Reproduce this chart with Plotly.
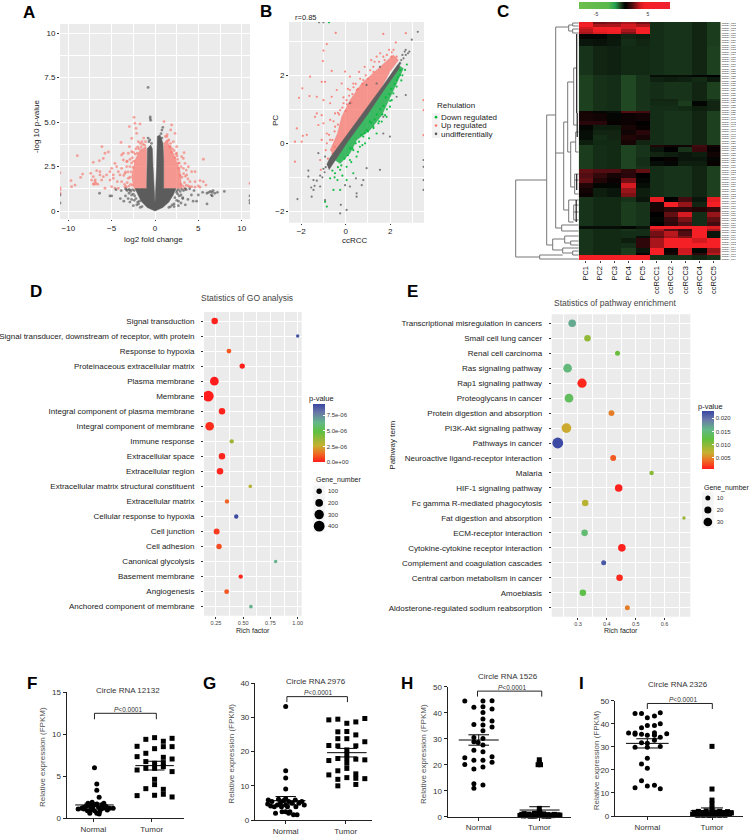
import plotly.graph_objects as go

W, H = 753, 836
FONT = "Liberation Sans"
GG_BG = "#ebebeb"

# ---- A: volcano, envelopes of the dense areas plus the separate points
volcano_grey_left_x = [0, -0.9, -1.6, -2.0, -2.3, -0.96, -0.96, -0.88, -0.5, -0.31, -0.23, -0.08, 0]
volcano_grey_left_y = [0, 0.2, 0.55, 0.95, 1.26, 1.26, 2.87, 3.51, 3.71, 3.51, 2.51, 1.26, 0.43]
volcano_grey_right_x = [0, 0.9, 1.6, 2.1, 2.4, 1.0, 1.0, 0.92, 0.58, 0.27, 0.19, 0.12, 0]
volcano_grey_right_y = [0, 0.2, 0.5, 0.9, 1.26, 1.26, 2.87, 3.81, 4.28, 4.2, 2.51, 1.26, 0.43]
volcano_red_left_x = [-0.96, -2.42, -2.69, -2.31, -1.73, -1.04, -0.96]
volcano_red_left_y = [1.26, 1.26, 1.93, 2.87, 3.43, 3.62, 3.25]
volcano_red_right_x = [1.0, 3.08, 2.88, 2.1, 1.35, 1.0]
volcano_red_right_y = [1.26, 1.26, 2.31, 3.25, 4.0, 3.8]
volcano_red_x = [-8.96, -9.69, -9.23, -9.62, -8.58, -8.35, -7.12, -6.42, -6.12, -5.77, -5.38, -5.96, -6.35, -6.73,
                 -7.42, -7.12, -7.31, -6.92, -7.12, -6.35, -5.96, -5.58, -5.19, -5, -4.62, -4.81, -5.19, -4.42,
                 -4.23, -3.85, -3.65, -3.65, -3.27, -3.85, -4.04, -4.35, -3.85, -4.23, -3.46, -3.08, -2.96, -3.08,
                 -2.69, -2.88, -2.42, -2.96, -2.19, -1.73, -2.12, -2.69, -3.92, -1.92, -2.31, -3.46, -4.62, -5.77,
                 -5, -3.27, -6.15, -4.81, -7.0, -6.8, -6.6, -6.9, -10.96, -10.96, -10.96, -10.96,
                 1.04, 1.92, 1.81, 1.35, 2.12, 2.5, 3.35, 3.27, 5.58, 3.85, 4.23, 4.62, 3.65, 4.04, 4.62, 3.85,
                 5.19, 5.58, 5.88, 5.0, 4.62, 4.23, 5.19, 3.08, 2.69, 2.5, 3.27, 3.46, 2.31, 1.73, 10.96,
                 -3.0, -3.2, -2.9, -3.1, -2.9, -2.7, -2.6, -2.3, -2.2, -2.0, -1.7, -1.5, -1.3, -1.1, -2.8, -2.6,
                 -2.75, -2.55, -2.45, -2.05, -1.85, -1.6, -3.3, -3.5, -3.6, -3.4, -3.2, -1.4, -1.2, -2.5,
                 3.2, 3.4, 3.1, 3.3, 3.0, 2.8, 2.6, 2.4, 2.2, 2.0, 1.8, 1.6, 1.4, 3.6, 3.5, 3.6, 3.0, 2.9, 2.75,
                 2.3, 1.9, 1.5, 1.2, 3.8, 4.0, 3.4, 2.55, 1.75]
volcano_red_y = [3.11, 1.71, 1.46, 1.37, 1.89, 2.08, 2.74, 2.83, 3.62, 3.25, 3.32, 2.96, 2.21, 2.27,
                 2.12, 1.93, 1.74, 1.65, 1.52, 2.03, 1.93, 2.03, 2.21, 2.4, 2.68, 1.84, 1.74, 2.5,
                 2.21, 3.15, 3.25, 2.87, 2.5, 2.4, 2.03, 1.65, 1.65, 1.28, 1.37, 1.84, 3.62, 3.25,
                 3.34, 2.91, 5.27, 4.75, 4.65, 4.9, 4.37, 4.09, 3.86, 3.9, 4.93, 2.12, 1.28, 1.28,
                 1.37, 2.78, 1.74, 2.03, 1.5, 1.55, 1.5, 1.75, 2.15, 1.3, 1.2, 1.0,
                 5.03, 4.84, 4.56, 4.18, 3.9, 3.62, 3.28, 2.96, 2.91, 2.49, 2.21, 2.21, 2.03, 1.65, 1.65, 1.41,
                 1.71, 1.65, 1.46, 1.41, 1.34, 1.37, 1.34, 3.06, 2.68, 3.25, 2.4, 2.68, 4.37, 3.62, 1.55,
                 1.4, 1.6, 1.9, 2.2, 2.5, 2.7, 3.0, 3.2, 3.5, 3.6, 3.8, 3.9, 4.1, 3.9, 1.5, 1.45,
                 2.2, 2.45, 2.8, 3.25, 3.5, 3.6, 1.35, 1.5, 2.0, 2.2, 2.8, 3.75, 3.7, 3.3,
                 1.4, 1.6, 1.9, 2.1, 2.5, 2.7, 2.9, 3.2, 3.4, 3.5, 3.8, 4.0, 4.3, 1.45, 1.95, 2.3, 1.5, 2.0, 2.4,
                 3.0, 3.3, 3.95, 4.2, 1.8, 1.35, 1.3, 3.1, 3.6]
volcano_grey_x = [-0.8, -0.55, -0.55, -0.5, 0.9, 0.8, 0.7, -0.8, -0.6, -0.7, -0.4, 0.8, 0.6,
                  6.0, 6.2, 6.4, 6.6, 6.7, 6.9, 6.5, 7.2, 8.0, 6.6, 6.0, 4.8, 4.4, 4.2, 4.5, 3.8, 3.5, 3.2, 3.0,
                  2.7, 3.6, 5.5, 4.0, 5.0, 2.5, -6.4, -5.2, -5.0, -4.5, -3.9, -4.0, -3.4, -3.0, -3.1, -3.3, -3.6,
                  -2.9, -2.5, -2.7, -10.96, -10.96, 10.96, 10.96, 10.96,
                  -2.4, -2.6, -2.8, -3.0, -2.5, -2.7, -2.2, -2.4, -1.9, -2.1, -1.5, -1.7, -3.2, -2.35, -2.9, -3.4,
                  -2.0, -1.8, 2.5, 2.7, 2.9, 3.1, 3.3, 3.5, 2.6, 2.8, 2.3, 2.5, 2.0, 2.2, 1.6, 1.8, 3.0, 3.2, 2.7,
                  2.2]
volcano_grey_y = [6.95, 5.3, 5.2, 5.1, 4.7, 4.55, 4.35, 4.1, 4.0, 3.9, 3.8, 4.1, 3.9,
                  1.0, 1.05, 1.1, 1.05, 1.15, 1.0, 0.9, 1.05, 1.1, 0.85, 0.4, 0.55, 0.55, 0.9, 1.15, 0.65, 0.35,
                  0.75, 0.45, 0.3, 1.2, 1.05, 1.25, 0.9, 1.05, 1.0, 0.85, 0.85, 1.2, 1.15, 0.7, 0.85, 1.0, 0.7,
                  1.2, 0.55, 0.5, 0.3, 0.65, 0.9, 0.45, 0.85, 0.6, 0.45,
                  1.15, 1.2, 1.1, 1.22, 0.95, 0.9, 0.7, 0.6, 0.4, 0.35, 0.25, 0.2, 1.15, 0.85, 1.18, 1.25,
                  0.5, 0.55, 1.15, 1.2, 1.1, 1.22, 1.15, 1.25, 0.95, 0.85, 0.75, 0.6, 0.35, 0.4, 0.2, 0.25, 0.9, 0.7,
                  0.55, 0.25]

# ---- B: correlation scatter
corr_red_band_x = [-0.70, -0.37, -0.18, 0.19, 0.72, 1.39, 2.14, 2.37, 1.99, 1.47, 0.79, 0.04, -0.48]
corr_red_band_y = [-0.2, 0.29, 0.78, 1.27, 1.76, 2.16, 2.6, 2.45, 2.11, 1.47, 0.88, 0.1, -0.39]
corr_green_band_x = [-0.10, 0.79, 1.54, 2.07, 2.37, 2.59, 2.29, 1.92, 1.62, 1.09, 0.49, 0.19, -0.25, -0.48]
corr_green_band_y = [-0.1, 0.78, 1.47, 2.06, 2.30, 2.2, 1.77, 1.27, 0.83, 0.39, 0.1, -0.29, -0.59, -0.49]
corr_grey_band_x = [-0.85, -0.7, 0.0, 0.85, 1.7, 2.3, 2.45, 2.4, 1.8, 0.95, 0.1, -0.55, -0.75]
corr_grey_band_y = [-0.62, -0.42, 0.2, 0.95, 1.72, 2.28, 2.4, 2.2, 1.65, 0.82, 0.06, -0.58, -0.78]
corr_red_x = [-0.45, -0.85, -1.0, -1.03, -0.63, -0.03, -1.6, -1.95, -1.63, -2.1, -1.08, -0.93, -0.63, -1.3, -1.0,
              -0.7, -0.4, -0.18, 0.19, -1.3, -1.08, -1.38, -1.0, -0.7, -0.48, -2.2, -2.28, -1.93, -1.75, -1.98,
              -2.28, -1.23, -0.85, -1.08, -1.15, -1.12, -0.7, 1.69, 2.7, 2.25, 2.07, 2.29, 1.69, 1.24, 1.39, 0.79,
              0.34, 0.49, 0.19, 0.04, -0.25, -0.48, -0.1, 3.5, 3.5, 3.5,
              -0.6, -0.5, -0.35, -0.3, -0.15, 0.0, 0.05, 0.15, 0.3, 0.25, 0.45, 0.55, 0.65, 0.75, 0.9, 1.0, 1.1,
              1.25, 1.3, 1.5, 1.55, 1.75, 1.85, 1.95, 2.05, 2.15, -0.55, -0.75, -0.85, -0.9, -0.6, -0.5, -0.8,
              -0.35, -0.1, 0.1, 0.6, 0.85, 1.15, 0.35]
corr_red_y = [3.25, 2.92, 2.73, 2.42, 2.13, 2.11, 1.96, 1.62, 1.39, 1.34, 1.81, 1.81, 1.37, 1.37, 1.27,
              1.18, 1.57, 1.76, 1.96, 0.88, 0.83, 0.78, 0.59, 0.69, 0.88, 0.44, 0.05, 0.22, 0.25, 0.05,
              -0.54, 0.54, 0.29, 0.1, -0.49, -0.78, 0.1, 3.22, 3.24, 2.97, 2.68, 2.55, 2.55, 2.25, 2.55, 1.86,
              1.76, 1.57, 1.57, 1.27, 0.98, 0.49, 1.18, 1.27, 0.98, 0.24,
              0.1, 0.35, 0.55, 0.85, 1.05, 0.95, 1.15, 1.4, 1.45, 1.2, 1.75, 1.6, 1.9, 1.75, 2.0, 1.9, 2.15,
              2.1, 2.4, 2.4, 2.65, 2.45, 2.6, 2.75, 2.55, 2.75, 0.65, 0.25, 0.0, -0.2, -0.3, -0.1, -0.45,
              0.9, 1.35, 1.6, 2.1, 2.25, 2.45, 1.65]
corr_green_x = [2.75, 2.67, 2.44, 2.29, 2.29, 2.14, 2.07, 1.99, 1.84, 1.77, 1.62, 1.47, 1.24, 0.94, 0.79, 0.87,
                0.64, 0.34, 0.49, 0.19, 0.04, 0.34, -0.25, -0.48, -0.37, -0.7, -0.55, -0.85, -0.93, -0.25, 0.04,
                1.39, 1.09, -0.75,
                0.3, 0.45, 0.6, 0.7, 0.85, 1.0, 1.15, 1.3, 1.4, 1.55, 1.7, 1.8, 1.95, 2.05, 2.2, 2.35, 2.45, 0.1,
                0.2, -0.05, -0.2, -0.35, -0.6, 1.05, 1.25, 1.5, 0.55, 0.75, 1.65, 1.85, 2.0, -0.5, -0.15, 0.25,
                2.5, 2.55]
corr_green_y = [2.32, 2.16, 2.01, 1.86, 1.67, 1.47, 1.27, 1.08, 0.78, 0.83, 0.64, 0.59, 0.49, 0.39, 0.2, 0,
                -0.1, -0.2, -0.39, -0.49, -0.69, -0.88, -0.78, -0.88, -1.08, -1.03, -1.37, -1.86, -1.72, -1.37,
                -1.08, 0.29, 0.64, 3.56,
                -0.15, 0.0, 0.05, 0.25, 0.3, 0.35, 0.6, 0.7, 0.85, 1.0, 1.1, 1.35, 1.45, 1.6, 1.75, 1.95, 2.15, -0.35,
                -0.15, -0.45, -0.65, -0.7, -0.8, 0.15, 0.45, 0.65, -0.25, -0.05, 0.85, 1.0, 1.25, -1.0, -0.95, -0.55,
                1.85, 2.0]
corr_grey_x = [3.24, 2.97, 2.7, 2.86, 1.54, 0.94, 0.19, 1.39, 1.69, 1.99, 1.69, 1.54, 0.94, 0.79, 0.72, 0.46, 0.49,
               0.49, 0.19, -0.03, -0.93, -1.23, -1.68, -1.68, -1.45, -1.15, -1.45, -1.53, -2.17, -0.93, -0.22, 0.04,
               -0.25, 3.5, 3.5, 3.5, 3.5, 2.7, 2.29, -1.2, -1.0,
               -1.3, -1.15, -1.05, -0.95, -0.9, -1.0, -1.4, -1.55, 2.5, 2.6, 2.55, 2.7, 2.8, 2.45, 2.65]
corr_grey_y = [3.28, 3.05, 2.75, 2.7, 2.25, 1.72, 1.18, 1.76, 0.78, 0.2, 0.29, -0.78, -0.73, -1.08, -1.23, -1.03,
               -1.57, -1.47, -1.27, -1.23, -0.39, -0.29, -0.8, -0.98, -1.08, -1.27, -1.37, -1.57, -1.64, -1.67,
               -1.81, -1.96, -2.06, -0.49, -0.69, -1.08, -1.37, 1.42, 1.37, 3.56, 3.56,
               -1.1, -0.95, -1.0, -0.85, -0.7, -0.75, -1.25, -1.3, 2.45, 2.5, 2.6, 2.6, 2.65, 2.35, 2.7]
regulation_labels = ["Down regulated", "Up regulated", "undifferentially"]
regulation_colors = ["#00ba38", "#f8766d", "#595959"]

# ---- C: heatmap blocks, each row repeated heat_counts times
heat_columns = ["PC1", "PC2", "PC3", "PC4", "PC5", "ccRCC1", "ccRCC2", "ccRCC3", "ccRCC4", "ccRCC5"]
heat_stops = [(-8.33, "#6cbf4c"), (-2.69, "#5bb84b"), (-1.35, "#23a050"), (-0.38, "#214a24"), (0.58, "#000000"),
              (1.92, "#4a0c10"), (3.46, "#d01a20"), (4.42, "#f52026"), (9.23, "#ef2330")]
heat_rows = [
    [4.2, 2.4, 2.6, 3.0, 2.4, 0.0, -0.1, -0.1, 0.1, -0.2],
    [4.5, 3.0, 3.0, 3.5, 3.0, 0.0, -0.1, -0.1, 0.1, -0.2],
    [3.5, 4.5, 4.5, 3.5, 4.5, 0.0, -0.1, -0.1, 0.1, -0.2],
    [3.2, 4.2, 4.5, 3.0, 4.5, 0.0, -0.1, -0.1, 0.1, -0.2],
    [3.0, 3.8, 4.2, 2.6, 4.5, 0.0, -0.1, -0.1, 0.1, -0.2],
    [0.5, 0.5, 0.3, 0.1, 0.2, 0.0, -0.1, -0.1, 0.1, -0.2],
    [0.3, 0.35, 0.25, 0.0, 0.1, 0.0, -0.1, -0.1, 0.1, -0.2],
    [-0.1, 0.1, 0.15, 0.05, 0.05, 0.0, -0.1, -0.1, 0.1, -0.25],
    [-0.25, -0.05, 0.0, -0.35, -0.1, 0.4, 0.4, 0.4, 0.5, 0.6],
    [-0.25, -0.05, 0.0, -0.35, -0.1, 0.15, 0.2, 0.15, 0.05, 0.25],
    [-0.25, -0.05, 0.0, -0.35, -0.1, 0.0, -0.1, -0.1, 0.1, -0.25],
    [-0.25, -0.05, 0.0, -0.35, -0.1, 0.1, 0.1, -0.1, 0.1, 0.0],
    [-0.25, -0.05, 0.0, -0.35, -0.1, 0.05, 0.05, -0.2, 0.5, 0.1],
    [-0.25, -0.05, 0.0, -0.35, -0.1, 0.0, 0.0, 0.05, 0.2, 0.1],
    [0.9, 0.5, 0.4, 2.0, 1.8, 0.0, -0.1, -0.1, 0.1, -0.25],
    [1.0, 0.9, 0.5, 0.8, 0.9, 0.0, -0.1, -0.1, 0.1, -0.25],
    [1.3, 1.3, 0.7, 0.8, 0.6, 0.0, -0.1, -0.1, 0.1, -0.25],
    [0.5, 0.2, 0.2, 1.0, 0.7, 0.0, -0.1, -0.1, 0.1, -0.25],
    [0.4, 0.1, 0.1, 0.9, 1.3, 0.0, -0.1, -0.1, 0.1, -0.25],
    [0.4, 0.0, 0.1, 1.2, 1.0, 0.0, -0.1, -0.1, 0.1, -0.25],
    [0.2, 0.05, 0.05, 1.0, 0.1, 0.0, -0.1, -0.1, 0.1, -0.25],
    [-0.2, 0.0, 0.05, -0.3, -0.1, 1.2, 0.9, 0.9, 1.8, 0.9],
    [-0.2, 0.0, 0.05, -0.3, -0.1, 0.3, 0.6, -0.1, 1.6, 0.7],
    [-0.2, 0.0, 0.05, -0.3, -0.1, 0.1, 0.2, 0.3, 0.2, 0.9],
    [-0.2, 0.0, 0.05, -0.3, 0.0, 0.6, 0.7, 0.3, 0.3, 0.5],
    [-0.2, 0.0, 0.05, -0.3, 0.0, 0.4, 0.5, 0.2, 0.2, 0.7],
    [-0.2, 0.0, 0.05, -0.3, -0.1, 0.0, -0.1, -0.1, 0.1, -0.25],
    [2.2, 2.0, 2.0, 1.4, 2.2, 0.0, -0.1, -0.1, 0.1, -0.25],
    [2.0, 1.5, 1.0, 1.3, 0.6, 0.0, -0.1, -0.1, 0.1, -0.25],
    [2.2, 1.2, 0.8, 2.4, 0.5, 0.0, -0.1, -0.1, 0.1, -0.25],
    [1.2, 0.5, 0.5, 3.6, 0.4, 0.0, -0.1, -0.1, 0.1, -0.25],
    [0.9, 0.2, 0.3, 2.8, 0.2, 0.0, -0.1, -0.1, 0.1, -0.25],
    [0.8, 0.2, 0.3, 2.5, 0.2, 0.0, -0.1, -0.1, 0.1, -0.25],
    [-0.1, 0.05, 0.05, -0.1, 0.3, 4.0, 0.6, 1.8, 0.3, 4.0],
    [-0.1, 0.05, 0.05, -0.2, -0.1, 1.0, 4.5, 2.8, 0.1, 4.5],
    [-0.1, 0.05, 0.05, -0.2, -0.1, 1.0, 1.4, 1.4, 1.2, 1.6],
    [-0.1, 0.05, 0.05, -0.2, -0.1, 0.6, 2.2, 3.6, 0.0, 2.8],
    [-0.1, 0.05, 0.05, -0.2, -0.1, 0.5, 1.6, 2.5, 0.0, 2.2],
    [-0.1, 0.05, 0.05, -0.2, -0.1, 0.6, 1.4, 2.0, 0.0, 1.8],
    [0.4, 0.4, 0.4, 0.5, 0.3, 4.5, 4.5, 4.5, 4.5, 3.8],
    [-0.1, 0.05, 0.05, -0.1, 0.0, 3.0, 2.0, 1.6, 4.5, 3.0],
    [-0.1, 0.05, 0.05, 0.0, 0.0, 2.4, 3.2, 2.0, 4.5, 0.3],
    [-0.1, 0.05, 0.05, 0.0, 0.4, 2.2, 3.0, 2.5, 4.5, 0.3],
    [-0.1, 0.05, 0.05, 0.2, 1.4, 3.0, 4.5, 4.5, 3.5, 4.5],
    [-0.1, 0.05, 0.05, 0.0, 1.4, 3.0, 4.5, 4.5, 4.5, 4.5],
    [-0.1, 0.05, 0.05, -0.2, 0.3, 4.5, 0.8, 3.4, 0.5, 2.8],
    [-0.1, 0.05, 0.05, -0.2, 0.5, 4.5, 1.0, 3.5, 1.4, 3.2],
    [4.5, 4.5, 4.5, 4.5, 4.5, -0.05, -0.05, -0.05, 0.1, -0.05],
]
heat_counts = [1, 1, 1, 1, 1, 2, 3, 12, 1, 2, 7, 1, 2, 2, 1, 3, 2, 2, 2, 2, 2, 1, 2, 2, 2, 2, 1,
               2, 2, 2, 2, 2, 2, 2, 2, 2, 2, 2, 2, 1, 1, 2, 1, 2, 2, 2, 1, 2]
# dendrogram segments: height from the heatmap edge, leaf position from the top
dendro_grey = [(63, 158, 63, 235), (63, 158, 32, 158), (63, 235, 39, 235), (39, 233, 39, 237), (39, 233, 16, 233),
               (39, 237, 0, 237), (32, 93, 32, 223), (32, 93, 23, 93), (32, 223, 26, 223), (26, 217, 26, 228),
               (26, 217, 14, 217), (26, 228, 16, 228), (14, 214, 14, 221), (14, 214, 0, 214), (14, 221, 8, 221),
               (8, 219, 8, 223), (8, 219, 0, 219), (8, 223, 0, 223), (16, 226, 16, 231), (16, 226, 0, 226),
               (16, 231, 6, 231), (6, 229, 6, 233), (6, 229, 0, 229), (6, 233, 0, 233), (23, 5, 23, 206),
               (23, 5, 10, 5), (23, 206, 17, 206), (23, 131, 15, 131), (10, 3, 10, 9), (10, 3, 6, 3), (10, 9, 6, 9),
               (6, 1, 6, 4), (6, 1, 0, 1), (6, 4, 0, 4), (6, 7, 6, 11), (6, 7, 0, 7), (6, 11, 0, 11),
               (17, 203, 17, 209), (17, 203, 0, 203), (17, 209, 0, 209), (15, 100, 15, 188), (15, 100, 11, 100),
               (15, 188, 10, 188), (11, 60, 11, 130), (11, 60, 5, 60), (11, 130, 8, 130), (8, 120, 8, 165),
               (8, 120, 3, 120), (8, 165, 4, 165), (4, 152, 4, 172), (4, 152, 0, 152), (4, 158, 0, 158),
               (4, 172, 0, 172), (3, 110, 3, 130), (3, 110, 0, 110), (3, 130, 0, 130), (10, 178, 10, 200),
               (10, 178, 0, 178), (10, 200, 5, 200), (5, 183, 5, 198), (5, 183, 0, 183), (5, 190, 0, 190),
               (5, 198, 0, 198), (5, 46, 5, 103), (5, 46, 2, 46), (5, 103, 2, 103)]
dendro_dark = [(2, 12, 2, 91), (1.5, 91, 1.5, 115), (2.5, 178, 2.5, 200), (2, 152, 2, 168)]

# ---- D: GO terms
go_terms = ["Signal transduction", "Signal transducer, downstream of receptor, with protein", "Response to hypoxia",
            "Proteinaceous extracellular matrix", "Plasma membrane", "Membrane",
            "Integral component of plasma membrane", "Integral component of membrane", "Immune response",
            "Extracellular space", "Extracellular region", "Extracellular matrix structural constituent",
            "Extracellular matrix", "Cellular response to hypoxia", "Cell junction", "Cell adhesion",
            "Canonical glycolysis", "Basement membrane", "Angiogenesis", "Anchored component of membrane"]
go_rich = [0.238, 1.0, 0.369, 0.491, 0.235, 0.179, 0.305, 0.192, 0.394, 0.305, 0.287, 0.565, 0.351, 0.436, 0.256,
           0.278, 0.798, 0.477, 0.348, 0.571]
go_genes = [144, 40, 81, 100, 256, 400, 144, 256, 64, 144, 144, 45, 64, 64, 121, 100, 40, 64, 81, 45]
go_pvalue = [1e-7, 9e-6, 1e-6, 1e-7, 0, 0, 1e-7, 3e-7, 3.5e-6, 1.5e-7, 1.5e-7, 3e-6, 1.2e-6, 9.2e-6, 5e-7, 8e-7,
             6.5e-6, 2e-7, 1e-6, 6.5e-6]
go_legend_genes = [100, 200, 300, 400]

# ---- E: pathways
pathway_terms = ["Transcriptional misregulation in cancers", "Small cell lung cancer", "Renal cell carcinoma",
                 "Ras signaling pathway", "Rap1 signaling pathway", "Proteoglycans in cancer",
                 "Protein digestion and absorption", "PI3K-Akt signaling pathway", "Pathways in cancer",
                 "Neuroactive ligand-receptor interaction", "Malaria", "HIF-1 signaling pathway",
                 "Fc gamma R-mediated phagocytosis", "Fat digestion and absorption", "ECM-receptor interaction",
                 "Cytokine-cytokine receptor interaction", "Complement and coagulation cascades",
                 "Central carbon metabolism in cancer", "Amoebiasis", "Aldosterone-regulated sodium reabsorption"]
pathway_rich = [0.280, 0.333, 0.437, 0.264, 0.314, 0.269, 0.416, 0.260, 0.230, 0.422, 0.555, 0.441, 0.325, 0.667,
                0.323, 0.452, 0.389, 0.444, 0.317, 0.471]
pathway_genes = [23, 17, 10, 30, 34, 30, 14, 38, 47, 14, 8, 23, 17, 5, 17, 23, 10, 17, 17, 10]
pathway_pvalue = [0.0165, 0.0095, 0.0115, 0.015, 0.001, 0.0135, 0.0045, 0.0065, 0.0225, 0.003, 0.01, 0.0007, 0.0075,
                  0.009, 0.0145, 0.0007, 0.0215, 0.001, 0.0125, 0.0045]
pathway_legend_genes = [10, 20, 30]

pvalue_colors = [(0.0, "#ff1c1c"), (0.14, "#ef6a24"), (0.28, "#c8b030"), (0.52, "#5fc040"), (0.68, "#63b888"),
                 (0.85, "#6a78a8"), (1.0, "#3a47a3")]

# ---- F-I: dot plots
f_normal_x = [1.02, 1.06, 1.06, 1.10, 0.74, 0.80, 0.84, 0.87, 0.91, 0.94, 0.95, 0.99, 1.02, 1.02, 0.94, 1.06, 1.09,
              1.10, 1.13, 1.15, 1.18, 1.22, 1.24, 1.28, 1.34, 0.90, 1.06, 1.11, 1.17, 0.83, 0.98]
f_normal_y = [6.03, 4.09, 3.33, 2.5, 1.1, 1.2, 1.1, 1.4, 1.8, 1.5, 1.0, 1.3, 1.6, 0.9, 0.6, 1.7, 1.3, 0.5, 1.1, 1.6,
              1.8, 1.4, 1.0, 1.2, 1.2, 0.9, 0.6, 0.8, 1.2, 1.3, 1.9]
f_tumor_x = [1.75, 1.90, 2.05, 2.20, 2.35, 2.20, 2.35, 1.75, 1.90, 2.05, 2.20, 2.35, 1.90, 2.05, 2.20, 1.75, 1.90,
             2.05, 2.20, 2.35, 2.05, 2.05, 1.90, 2.20, 2.20, 1.75, 2.05, 2.35]
f_tumor_y = [8.57, 9.40, 9.60, 9.17, 9.52, 8.53, 8.53, 7.34, 7.74, 8.29, 7.26, 7.06, 6.75, 6.55, 6.63, 5.75, 5.95,
             5.95, 6.15, 5.56, 4.64, 4.01, 3.53, 3.45, 2.86, 2.70, 2.74, 2.54]
g_normal_x = [1.0, 1.0, 1.0, 1.0, 0.71, 0.77, 0.83, 0.86, 0.91, 0.94, 1.0, 1.0, 1.05, 1.05, 1.11, 1.13, 1.17, 1.19,
              1.22, 1.31, 0.70, 0.75, 0.81, 0.96, 1.03, 1.07, 1.16, 1.27, 1.0, 0.88, 0.93]
g_normal_y = [33.2, 14.4, 12.3, 9.07, 5.85, 5.4, 1.95, 4.4, 4.9, 2.4, 6.3, 4.4, 5.4, 1.95, 4.9, 1.5, 3.9, 1.5, 4.9,
              4.4, 4.7, 4.1, 3.9, 5.66, 3.9, 2.4, 5.85, 5.4, 2.4, 6.05, 3.9]
g_tumor_x = [1.72, 1.87, 2.02, 2.17, 2.32, 1.87, 2.02, 2.17, 1.87, 2.02, 2.32, 1.72, 1.87, 2.17, 2.02, 2.02, 1.72,
             1.87, 2.02, 2.17, 2.32, 2.02, 2.02, 1.87, 1.72, 2.17, 2.17, 1.87, 2.02, 2.17, 2.32, 1.87]
g_tumor_y = [29.3, 29.5, 28.3, 28.7, 29.7, 25.8, 25.9, 24.9, 23.8, 23.8, 22.9, 21.8, 21.7, 21.7, 20.5, 19.3, 17.4,
             18.0, 18.0, 17.8, 17.6, 16.6, 15.1, 14.4, 13.2, 13.5, 12.2, 11.9, 12.4, 10.4, 12.1, 10.0]
h_normal_x = [0.77, 1.07, 1.22, 0.92, 1.07, 1.22, 1.07, 1.07, 1.22, 1.07, 0.92, 1.22, 1.07, 0.92, 1.07, 0.92, 0.99,
              1.07, 0.92, 1.07, 0.77, 1.22, 0.92, 1.07, 1.22, 0.77, 0.92, 1.07, 0.92, 0.92, 1.07]
h_normal_y = [44.5, 44.5, 44.6, 42.1, 42.3, 41.4, 40.1, 37.6, 36.8, 35.3, 35.5, 34.5, 33.1, 30.5, 30.1, 28.8, 28.5,
              27.6, 25.6, 25, 22.7, 23.1, 21.7, 21.7, 20.9, 20.1, 18.3, 19.1, 12.7, 10.9, 12.2]
h_tumor_x = [2.0, 2.0, 1.98, 2.02, 2.0, 1.68, 1.71, 1.74, 1.77, 1.80, 1.83, 1.86, 1.89, 1.92, 1.95, 1.98, 2.01, 2.04,
             2.07, 2.10, 2.13, 2.16, 2.19, 2.22, 2.25, 2.28, 2.31, 2.34, 1.75, 1.85, 1.93, 2.0, 2.08, 2.15]
h_tumor_y = [21.9, 20.9, 20.0, 20.0, 3.2, 0.5, 0.9, 0.3, 0.7, 0.4, 1.0, 0.6, 0.3, 1.3, 0.6, 0.9, 1.5, 0.4, 1.1, 0.5,
             0.8, 0.3, 0.7, 0.4, 0.9, 0.5, 0.7, 0.6, 1.2, 0.2, 0.2, 2.0, 0.2, 0.2]
i_normal_x = [0.81, 0.91, 1.0, 1.11, 1.2, 0.81, 0.91, 1.0, 1.11, 1.2, 0.71, 0.81, 0.91, 1.0, 1.11, 1.2, 1.3, 1.11,
              0.81, 0.91, 1.0, 1.11, 1.2, 1.0, 1.0, 0.91, 1.0, 0.91, 0.81, 1.0, 1.11, 1.2]
i_normal_y = [44.5, 44.5, 42.6, 43.4, 44.8, 36, 38.3, 39.2, 39.2, 40, 36, 35.5, 35.4, 35, 36.1, 34.1, 35.7, 35,
              29.8, 31.8, 31.5, 32.9, 30.1, 29.8, 25, 22.5, 20.7, 15.3, 12.3, 13, 13.3, 11.8]
i_tumor_x = [2.0, 2.0, 2.0, 2.0, 2.0, 1.70, 1.73, 1.76, 1.79, 1.82, 1.85, 1.88, 1.91, 1.94, 1.97, 2.0, 2.03, 2.06,
             2.09, 2.12, 2.15, 2.18, 2.21, 2.24, 2.27, 2.30, 1.78, 1.86, 1.95, 2.03, 2.12, 2.2]
i_tumor_y = [30.2, 11.7, 6.9, 5.2, 3.3, 0.8, 1.6, 0.6, 2.0, 0.9, 1.5, 0.5, 2.2, 1.0, 0.4, 2.4, 0.9, 1.7, 0.5, 2.0,
             0.9, 1.5, 0.7, 1.9, 1.0, 1.3, 0.3, 0.3, 0.3, 0.3, 0.3, 0.3]

fig = go.Figure()
layout_axes = {}
annotations = []
shapes = []
axis_count = 0


def new_axes(box, x_kw, y_kw):
    # box is left, top, right, bottom in page pixels
    global axis_count
    axis_count += 1
    n = axis_count
    left, top, right, bottom = box
    layout_axes[f"xaxis{n}"] = dict(domain=[left / W, right / W], anchor=f"y{n}", **x_kw)
    layout_axes[f"yaxis{n}"] = dict(domain=[1 - bottom / H, 1 - top / H], anchor=f"x{n}", **y_kw)
    return dict(xaxis=f"x{n}", yaxis=f"y{n}")


def text(x, y, s, size=8, color="#222", anchor="center", angle=0, bold=False):
    annotations.append(dict(xref="paper", yref="paper", x=x / W, y=1 - y / H, text=f"<b>{s}</b>" if bold else s,
                            showarrow=False, xanchor=anchor, yanchor="middle", textangle=angle,
                            font=dict(size=size, color=color, family=FONT)))


def grey_panel(box, color=GG_BG):
    left, top, right, bottom = box
    shapes.append(dict(type="rect", xref="paper", yref="paper", x0=left / W, x1=right / W, y0=1 - bottom / H,
                       y1=1 - top / H, fillcolor=color, line_width=0, layer="below"))


def gg_axis(rng, tickvals, ticktext=None, minor=None, size=8, color="#222", ticklen=2):
    ax = dict(range=rng, tickmode="array", tickvals=tickvals, showgrid=True, gridcolor="white", gridwidth=1,
              zeroline=False, showline=False, ticks="outside", ticklen=ticklen, tickwidth=0.7, tickcolor="#333",
              tickfont=dict(size=size, color=color, family=FONT))
    if ticktext is not None:
        ax["ticktext"] = ticktext
    if minor is not None:
        ax["minor"] = dict(tickvals=minor, showgrid=True, gridcolor="white", gridwidth=0.5, ticks="")
    return ax


def blank_axis(rng):
    return dict(range=rng, visible=False, fixedrange=True)


def blob(ax, xs, ys, fill, line=None):
    fig.add_trace(go.Scatter(x=xs, y=ys, mode="lines", fill="toself", fillcolor=fill,
                             line=dict(color=line or fill, width=0.5), showlegend=False, hoverinfo="skip", **ax))


def dots(ax, xs, ys, color, size=2.6, opacity=0.65):
    fig.add_trace(go.Scatter(x=xs, y=ys, mode="markers", showlegend=False, hoverinfo="skip",
                             marker=dict(color=color, size=size, opacity=opacity, line_width=0), **ax))


# panel A
box_a = (60, 24, 250, 219)
grey_panel(box_a)
ax_a = new_axes(box_a, gg_axis([-10.96, 10.96], [-10, -5, 0, 5, 10], minor=[-7.5, -2.5, 2.5, 7.5], ticklen=1),
                gg_axis([-0.45, 10.52], [0, 2.5, 5, 7.5, 10], ["0", "2.5", "5.0", "7.5", "10"],
                        minor=[1.25, 3.75, 6.25, 8.75]))
blob(ax_a, volcano_red_left_x, volcano_red_left_y, "rgba(248,118,109,0.72)")
blob(ax_a, volcano_red_right_x, volcano_red_right_y, "rgba(248,118,109,0.72)")
dots(ax_a, volcano_red_x, volcano_red_y, "#f8766d", size=2.8)
blob(ax_a, volcano_grey_left_x, volcano_grey_left_y, "#5c5c5c")
blob(ax_a, volcano_grey_right_x, volcano_grey_right_y, "#5c5c5c")
dots(ax_a, volcano_grey_x, volcano_grey_y, "#555555", size=2.8)
text(153, 239, "log2 fold change", 8)
text(37, 127, "-log 10 p-value", 8, angle=-90)

# panel B
box_b = (289, 22, 424, 222.7)
grey_panel(box_b)
ax_b = new_axes(box_b, gg_axis([-2.55, 3.52], [-2, 0, 2], minor=[-1, 1, 3], ticklen=1),
                gg_axis([-2.335, 3.57], [-2, 0, 2], minor=[-1, 1, 3]))
blob(ax_b, corr_red_band_x, corr_red_band_y, "rgba(248,118,109,0.75)")
blob(ax_b, corr_green_band_x, corr_green_band_y, "rgba(30,175,75,0.85)")
dots(ax_b, corr_red_x, corr_red_y, "#f8766d", size=2.2, opacity=0.85)
dots(ax_b, corr_green_x, corr_green_y, "#00ba38", size=2.2, opacity=0.9)
blob(ax_b, corr_grey_band_x, corr_grey_band_y, "#5f5f5f")
dots(ax_b, corr_grey_x, corr_grey_y, "#5f5f5f", size=2.2, opacity=0.8)
text(355, 241, "ccRCC", 8)
text(275, 121, "PC", 8, angle=-90)
text(305, 17, "r=0.85", 7.5)
text(435, 105.7, "Rehulation", 8, anchor="left")
grey_panel((432, 113, 440, 138), "#f2f2f2")
ax_bl = new_axes((432, 113, 440, 138), blank_axis([-1, 1]),
                 dict(range=[2.5, -0.5], type="category", side="right", showgrid=False, zeroline=False,
                      showline=False, ticks="", tickmode="array", tickvals=regulation_labels,
                      ticktext=regulation_labels, tickfont=dict(size=8, color="#222", family=FONT)))
fig.add_trace(go.Scatter(x=[0, 0, 0], y=regulation_labels, mode="markers", showlegend=False, hoverinfo="skip",
                         marker=dict(color=regulation_colors, size=2.6), **ax_bl))

# panel C
box_c = (578.7, 22, 720.7, 260)
heat_z = []
for row, count in zip(heat_rows, heat_counts):
    heat_z.extend([row] * count)
row_labels = [f"circRNA_{i + 1:04d}" for i in range(len(heat_z))]
ax_c = new_axes(box_c, dict(type="category", tickangle=-90, ticks="outside", ticklen=2, tickwidth=0.7,
                            showgrid=False, zeroline=False, tickfont=dict(size=7.5, color="#111", family=FONT)),
                dict(range=[len(heat_z) - 0.5, -0.5], side="right", tickmode="array", showgrid=False, zeroline=False,
                     tickvals=list(range(len(heat_z))), ticktext=row_labels, ticks="",
                     tickfont=dict(size=2.2, color="#000", family=FONT)))
heat_min, heat_max = heat_stops[0][0], heat_stops[-1][0]
heat_scale = [[(v - heat_min) / (heat_max - heat_min), c] for v, c in heat_stops]
fig.add_trace(go.Heatmap(z=heat_z, x=heat_columns, y=list(range(len(heat_z))), zmin=heat_min, zmax=heat_max,
                         colorscale=heat_scale, hoverinfo="skip",
                         colorbar=dict(orientation="h", x=578.7 / W, xanchor="left", y=1 - 15.3 / H, yanchor="bottom",
                                       len=91.3, lenmode="pixels", thickness=7.3, thicknessmode="pixels", xpad=0,
                                       ypad=0, outlinewidth=0, ticks="", tickmode="array", tickvals=[-5, 5],
                                       ticktext=["-5", "5"], ticklabelposition="outside top",
                                       tickfont=dict(size=5, color="#333", family=FONT)), **ax_c))
ax_d = new_axes((510, 22, 578.7, 260), blank_axis([68.7, 0]), blank_axis([238, 0]))
for segments, color, width in ((dendro_grey, "#777777", 1), (dendro_dark, "#1a1a1a", 1.2)):
    xs, ys = [], []
    for h0, p0, h1, p1 in segments:
        xs += [h0, h1, None]
        ys += [p0, p1, None]
    fig.add_trace(go.Scatter(x=xs, y=ys, mode="lines", line=dict(color=color, width=width), showlegend=False,
                             hoverinfo="skip", **ax_d))


def bubble_panel(box, terms, rich, genes, pvals, sizeref, x_ticks, x_labels, x_minor, x_range, cbar, tick_size):
    grey_panel(box)
    y_ax = gg_axis([19.6, -0.6], terms, size=tick_size)
    y_ax.update(type="category", categoryorder="array", categoryarray=terms, ticklabelstandoff=5)
    ax = new_axes(box, gg_axis(x_range, x_ticks, x_labels, x_minor, size=5.5, color="#444"), y_ax)
    fig.add_trace(go.Scatter(x=rich, y=terms, mode="markers", showlegend=False, hoverinfo="skip",
                             marker=dict(size=genes, sizemode="area", sizeref=sizeref, sizemin=1, color=pvals,
                                         colorscale=pvalue_colors, cmin=cbar["cmin"], cmax=cbar["cmax"],
                                         line_width=0, opacity=1,
                                         colorbar=dict(x=cbar["left"] / W, xanchor="left", y=1 - cbar["bottom"] / H,
                                                       yanchor="bottom", len=cbar["bottom"] - cbar["top"],
                                                       lenmode="pixels", thickness=cbar["width"],
                                                       thicknessmode="pixels", xpad=0, ypad=0, outlinewidth=0,
                                                       ticks="inside", ticklen=2, tickcolor="white",
                                                       tickmode="array", tickvals=cbar["ticks"],
                                                       ticktext=cbar["labels"],
                                                       tickfont=dict(size=6, color="#333", family=FONT))), **ax))
    return ax


def size_legend(box, genes, sizeref):
    grey_panel(box, "#f4f4f4")
    labels = [str(g) for g in genes]
    ax = new_axes(box, blank_axis([-1, 1]),
                  dict(range=[len(genes) - 0.5, -0.5], type="category", side="right", showgrid=False, zeroline=False,
                       showline=False, ticks="", ticklabelstandoff=2, tickfont=dict(size=6, color="#333", family=FONT)))
    fig.add_trace(go.Scatter(x=[0] * len(genes), y=labels, mode="markers", showlegend=False, hoverinfo="skip",
                             marker=dict(size=genes, sizemode="area", sizeref=sizeref, color="black", line_width=0,
                                         opacity=1), **ax))


# panel D
bubble_panel((204, 312, 301.7, 615.7), go_terms, go_rich, go_genes, go_pvalue, 6.8,
             [0.25, 0.5, 0.75, 1.0], ["0.25", "0.50", "0.75", "1.00"], [0.375, 0.625, 0.875], [0.14, 1.037],
             dict(cmin=0, cmax=9.3e-6, left=313.3, top=404, bottom=462, width=11.7, ticks=[0, 2.5e-6, 5e-6, 7.5e-6],
                  labels=["0.0e+00", "2.5e-06", "5.0e-06", "7.5e-06"]), 8)
size_legend((313.3, 485.5, 325, 532), go_legend_genes, 6.8)
text(247, 298, "Statistics of GO analysis", 8.5, "#444")
text(253, 630, "Rich factor", 7)
text(306.7, 398.7, "p-value", 7.5, anchor="left")
text(313.7, 480, "Gene_number", 7, anchor="left")

# panel E
bubble_panel((551.7, 314.3, 690.3, 616.7), pathway_terms, pathway_rich, pathway_genes, pathway_pvalue, 0.8,
             [0.3, 0.4, 0.5, 0.6], ["0.3", "0.4", "0.5", "0.6"], [0.25, 0.35, 0.45, 0.55, 0.65], [0.209, 0.689],
             dict(cmin=0.00056, cmax=0.0227, left=702, top=411.3, bottom=469.3, width=11.7,
                  ticks=[0.005, 0.01, 0.015, 0.02], labels=["0.005", "0.010", "0.015", "0.020"]), 8)
size_legend((702, 492, 713.7, 528), pathway_legend_genes, 0.8)
text(615, 302.7, "Statistics of pathway enrichment", 8.5, "#444")
text(621, 630.7, "Rich factor", 7)
text(393, 445.7, "Pathway term", 8, angle=-90)
text(695.5, 406.3, "p-value", 7.5, anchor="left")
text(702, 488, "Gene_number", 7, anchor="left")


def dot_panel(box, x_range, y_max, y_ticks, normal, tumor, stats, bracket, title, title_xy, y_title_x, p_xy):
    axis = dict(showgrid=False, zeroline=False, showline=True, linecolor="#222", linewidth=1.2, ticks="outside",
                ticklen=3, tickwidth=1, tickcolor="#222", tickfont=dict(size=8, color="#333", family=FONT))
    ax = new_axes(box, dict(range=x_range, tickmode="array", tickvals=[1, 2], ticktext=["Normal", "Tumor"], **axis),
                  dict(range=[0, y_max], tickmode="array", tickvals=y_ticks, **axis))
    fig.add_trace(go.Scatter(x=normal[0], y=normal[1], mode="markers", showlegend=False, hoverinfo="skip",
                             cliponaxis=False, marker=dict(color="black", size=5, symbol="circle", line_width=0), **ax))
    fig.add_trace(go.Scatter(x=tumor[0], y=tumor[1], mode="markers", showlegend=False, hoverinfo="skip",
                             cliponaxis=False, marker=dict(color="black", size=5, symbol="square", line_width=0), **ax))
    xs, ys = [], []
    for center, mean, sem in stats:
        xs += [center - 0.33, center + 0.33, None, center - 0.17, center + 0.17, None, center - 0.17, center + 0.17,
               None, center, center, None]
        ys += [mean, mean, None, mean + sem, mean + sem, None, mean - sem, mean - sem, None, mean + sem, mean - sem,
               None]
    fig.add_trace(go.Scatter(x=xs, y=ys, mode="lines", line=dict(color="black", width=1), showlegend=False,
                             hoverinfo="skip", cliponaxis=False, **ax))
    b0, b1, top, drop = bracket
    fig.add_trace(go.Scatter(x=[b0, b0, b1, b1], y=[drop, top, top, drop], mode="lines", showlegend=False,
                             hoverinfo="skip", line=dict(color="#222", width=1), cliponaxis=False, **ax))
    text(title_xy[0], title_xy[1], title, 8, "#333")
    text(y_title_x, (box[1] + box[3]) / 2 + 2, "Relative expression (FPKM)", 8, "#555", angle=-90)
    text(p_xy[0], p_xy[1], "<i>P</i>&lt;0.0001", 6.5, "#333")


dot_panel((66.7, 692.3, 184, 818.3), [0.544, 2.554], 15, [0, 5, 10, 15], (f_normal_x, f_normal_y),
          (f_tumor_x, f_tumor_y), [(1.02, 1.59, 0.2), (2.05, 6.27, 0.52)], (1.02, 2.08, 12.5, 11.79),
          "Circle RNA 12132", (128, 690), 42.7, (128, 709.7))
dot_panel((255, 683.3, 372, 820), [0.488, 2.44], 40, [0, 10, 20, 30, 40], (g_normal_x, g_normal_y),
          (g_tumor_x, g_tumor_y), [(1.0, 5.66, 1.2), (2.02, 19.7, 1.25)], (1.02, 2.03, 36.1, 34.5),
          "Circle RNA 2976", (315.7, 681), 232, (317.7, 692.7))
dot_panel((447.7, 686.7, 570.7, 816.7), [0.488, 2.518], 50, [0, 10, 20, 30, 40, 50], (h_normal_x, h_normal_y),
          (h_tumor_x, h_tumor_y), [(1.0, 29.5, 2.0), (2.005, 2.56, 1.28)], (0.98, 2.04, 48.3, 46.2),
          "Circle RNA 1526", (507.7, 676), 423.3, (511.7, 687))
dot_panel((615, 700.7, 743.3, 816), [0.5, 2.484], 50, [0, 10, 20, 30, 40, 50], (i_normal_x, i_normal_y),
          (i_tumor_x, i_tumor_y), [(1.0, 31.5, 2.0), (2.0, 2.3, 1.2)], (1.0, 2.005, 48.8, 46.4),
          "Circle RNA 2326", (678, 684), 596, (682.7, 699.7))

for letter, x, y in [("A", 29, 13), ("B", 266, 12), ("C", 503, 12), ("D", 36, 291), ("E", 413, 291), ("F", 32, 683),
                     ("G", 210, 683), ("H", 407, 683), ("I", 581, 683)]:
    text(x, y, letter, 17, "#000", bold=True)

fig.update_layout(width=W, height=H, margin=dict(l=0, r=0, t=0, b=0, autoexpand=False), paper_bgcolor="white",
                  plot_bgcolor="rgba(0,0,0,0)", showlegend=False, annotations=annotations, shapes=shapes,
                  font=dict(family=FONT), **layout_axes)
fig.write_html("out.html", config={"displayModeBar": False},
               post_script="document.body.style.margin='0';document.body.style.overflow='hidden';")
